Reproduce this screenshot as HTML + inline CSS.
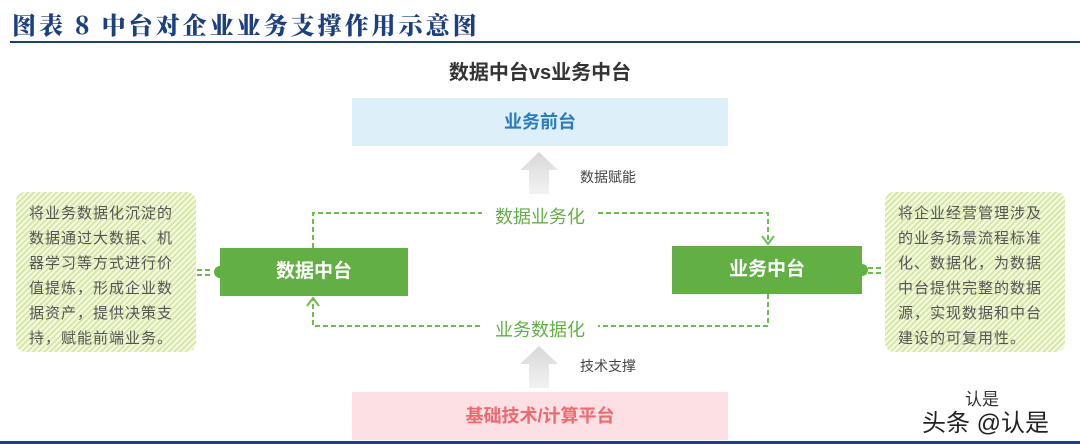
<!DOCTYPE html>
<html><head><meta charset="utf-8"><style>
body{margin:0;width:1080px;height:444px;background:#fff;position:relative;overflow:hidden;font-family:"Liberation Sans","Noto Sans CJK SC",sans-serif}
.a{position:absolute}
.hatch{background:repeating-linear-gradient(135deg,#d7e8a6 0 2px,#f4f9e4 2px 4px);border-radius:9px}
.txt{font-size:15px;line-height:25px;color:#555;letter-spacing:1px}
.txt span{position:absolute;left:13px;top:9px;width:150px;word-break:break-all}
.gbox{background:#62b044;color:#fff;font-size:19px;font-weight:bold;text-align:center;line-height:48px}
</style></head><body>
<div class="a" style="left:12px;top:6px;font-family:'Noto Serif CJK SC',serif;font-weight:900;font-size:24px;color:#1b3f7f;letter-spacing:3px">图表 8 中台对企业业务支撑作用示意图</div>
<div class="a" style="left:10px;top:41px;width:1070px;height:2px;background:#1b3f7f"></div>
<div class="a" style="left:0;top:56px;width:1080px;text-align:center;font-size:20px;font-weight:bold;color:#333">数据中台vs业务中台</div>
<div class="a" style="left:352px;top:98px;width:376px;height:48px;background:#ddeff8;color:#2a7cc2;font-size:18px;font-weight:bold;text-align:center;line-height:48px">业务前台</div>
<div class="a" style="left:352px;top:392px;width:376px;height:48px;background:#fce0e3;color:#ee6a6f;font-size:18px;font-weight:bold;text-align:center;line-height:48px">基础技术/计算平台</div>
<svg class="a" style="left:0;top:0" width="1080" height="444">
<defs><linearGradient id="g" x1="0" y1="0" x2="0" y2="1"><stop offset="0" stop-color="#d8d8d8"/><stop offset="1" stop-color="#f2f2f2"/></linearGradient></defs>
<polygon points="539,152 558,170 549,170 549,194 529,194 529,170 520,170" fill="url(#g)"/>
<polygon points="539,346 558,364 549,364 549,388 529,388 529,364 520,364" fill="url(#g)"/>
<g stroke="#6cbf4f" stroke-width="2" stroke-dasharray="5,3" fill="none">
<path d="M313,248 V213 H768 V244"/>
<path d="M768,294 V326 H313 V298"/>
<path d="M197,270 H212 M197,275 H212"/>
<path d="M868,268 H883 M868,273 H883"/>
</g>
<g stroke="#6cbf4f" stroke-width="2" fill="none">
<path d="M762,236 L768,244 L774,236"/>
<path d="M307,306 L313,298 L319,306"/>
</g>
<circle cx="220" cy="272" r="6" fill="#62b044"/>
<circle cx="862" cy="270" r="6" fill="#62b044"/>
</svg>
<div class="a" style="left:482px;top:203px;width:116px;background:#fff;text-align:center;font-size:18px;color:#62b044">数据业务化</div>
<div class="a" style="left:482px;top:316px;width:116px;background:#fff;text-align:center;font-size:18px;color:#62b044">业务数据化</div>
<div class="a" style="left:580px;top:167px;font-size:14px;color:#444">数据赋能</div>
<div class="a" style="left:580px;top:356px;font-size:14px;color:#444">技术支撑</div>
<div class="a gbox" style="left:220px;top:248px;width:188px;height:48px">数据中台</div>
<div class="a gbox" style="left:672px;top:246px;width:190px;height:48px">业务中台</div>
<div class="a hatch txt" style="left:16px;top:192px;width:180px;height:160px"><span>将业务数据化沉淀的数据通过大数据、机器学习等方式进行价值提炼，形成企业数据资产，提供决策支持，赋能前端业务。</span></div>
<div class="a hatch txt" style="left:885px;top:192px;width:180px;height:160px"><span>将企业经营管理涉及的业务场景流程标准化、数据化，为数据中台提供完整的数据源，实现数据和中台建设的可复用性。</span></div>
<div class="a" style="left:965px;top:385px;font-size:17px;color:#333">认是</div>
<div class="a" style="left:922px;top:403px;font-size:24px;color:#222;text-shadow:0 0 2px #fff">头条 @认是</div>
<div class="a" style="left:0;top:441px;width:1080px;height:3px;background:#1b3f7f"></div>
</body></html>
